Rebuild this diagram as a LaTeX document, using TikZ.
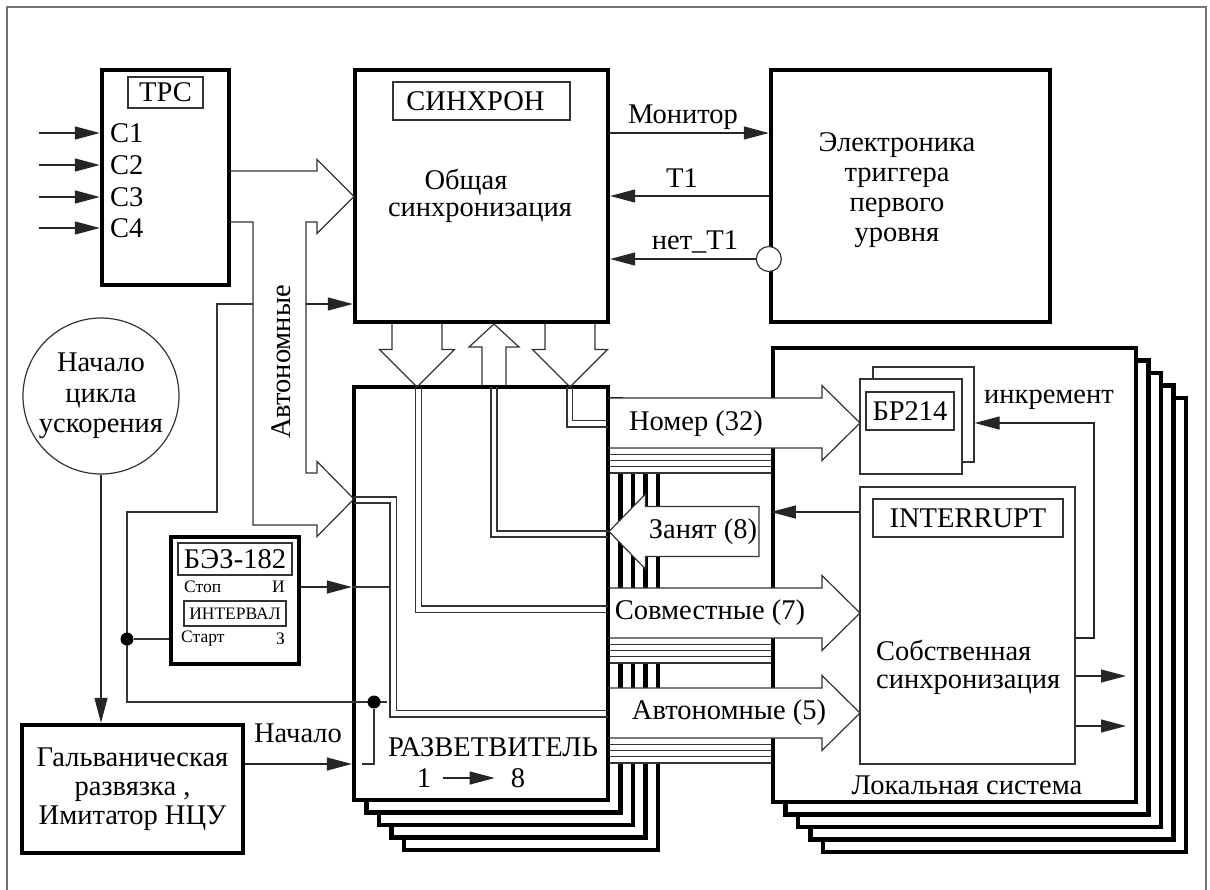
\documentclass[tikz,border=0pt]{standalone}
\usepackage{fontspec}
\setmainfont{Liberation Serif}
\usetikzlibrary{arrows.meta,calc,positioning}
\newcommand\bigfnt{\fontsize{28.5}{31}\selectfont}
\newcommand\smallfnt{\fontsize{17.5}{19}\selectfont}

\begin{document}
\begin{tikzpicture}[x=1pt,y=-1pt,>={Triangle[length=25pt,width=13pt]},
  font=\bigfnt, every node/.style={inner sep=0pt},
  thickbox/.style={draw, line width=4.3pt, fill=white},
  thinbox/.style={draw=black!80, line width=1.2pt, fill=white},
  bus/.style={draw=black!80, line width=1.2pt},
  sig/.style={draw=black!85, line width=1.2pt, ->},
  dot/.style={circle, fill=black, minimum size=13pt},
  frame/.style={draw=black!55, line width=1.2pt}]
\useasboundingbox (0,0) rectangle (1210,889);
\draw[frame] (7,892) -- (7,7) -- (1206,7) -- (1206,892);

% stacked splitter and local systems
\foreach \k in {4,3,2,1}
  \node[thickbox, minimum width=254pt, minimum height=413pt] at (481+12.5*\k,593.5+12.5*\k) {};
\node[thickbox, minimum width=254pt, minimum height=413pt] (razv) at (481,593.5) {};
\foreach \k in {4,3,2,1}
  \node[thickbox, minimum width=363pt, minimum height=454pt] at (954.5+12.5*\k,575+12.5*\k) {};
\node[thickbox, minimum width=363pt, minimum height=454pt] (loc) at (954.5,575) {};

% top blocks
\node[thickbox, minimum width=127pt, minimum height=215pt] (tpc) at (165.5,177.5) {};
\node[thinbox, minimum width=75pt, minimum height=31pt] (tpclbl) at (165.5,92.5) {ТРС};
\node[thickbox, minimum width=253pt, minimum height=252pt] (sync) at (481.5,196) {};
\node[thinbox, minimum width=177pt, minimum height=38pt] (synclbl) at (481.5,101) {СИНХРОН\kern12pt};
\node at (466,182) {Общая};
\node at (480,213) {синхронизация};
\node[thickbox, minimum width=279pt, minimum height=252pt] (trig) at (910.5,196) {};
\node[align=center] (trigtxt) at (897,190)
  {Электроника\\[-1pt]триггера\\[-1pt]первого\\[-1pt]уровня};

% inputs of TPC
\foreach \i/\y in {1/133,2/165,3/197,4/228}{
  \node[anchor=west] (c\i) at (110,\y) {C\i};
  \coordinate (in\i) at (39,\y);
  \draw[sig] (in\i) -- (tpc.west |- c\i);
}

% sync <-> trigger
\draw[sig] ([yshift=63pt]sync.east) -- ([yshift=63pt]trig.west);
\node at (683,117) {Монитор};
\draw[sig] (trig.west) -- (sync.east);
\node at (682,178) {Т1};
\node[circle, draw=black!80, line width=1.2pt, fill=white, minimum size=25pt] (inv) at ([yshift=-63pt]trig.west) {};
\draw[sig] (inv.west) -- ([yshift=-63pt]sync.east);
\node at (695,242) {нет\_Т1};

% broad bus from TPC and the autonomous branch
\draw[bus] (229,171) -- (317,171) -- (317,159.5) -- (354,196.5) -- (317,233.5) -- (317,222)
  -- (306,222) -- (306,473) -- (317,473) -- (317,461.5) -- (354,499) -- (317,536.5)
  -- (317,525) -- (253,525) -- (253,222) -- (229,222);
\node[rotate=90] at (281,362) {Автономные};

% buses between sync and splitter
\draw[bus] (392,324) -- (392,349.5) -- (379.5,349.5) -- (417,387) -- (454.5,349.5) -- (442,349.5) -- (442,324);
\draw[bus] (545,324) -- (545,349.5) -- (532.5,349.5) -- (570,387) -- (607.5,349.5) -- (595,349.5) -- (595,324);
\draw[bus] (482,385) -- (482,347) -- (469,347) -- (494,324) -- (519,347) -- (506,347) -- (506,385);

% buses from splitter to local systems
\foreach \c in {423,613,713}{
  \fill[white] (610,\c-25) rectangle (770.5,\c+50);
  \fill[white] (610,\c-25) -- (822,\c-25) -- (822,\c-37.5) -- (860,\c) -- (822,\c+37.5) -- (822,\c+25) -- (610,\c+25) -- cycle;
  \draw[bus] (608,\c-25) -- (822,\c-25) -- (822,\c-37.5) -- (860,\c) -- (822,\c+37.5) -- (822,\c+25) -- (608,\c+25);
  \foreach \k in {1,...,4}
    \draw[bus] (610,\c+25+6.25*\k) -- (771,\c+25+6.25*\k);
}
\node at (696,424) {Номер (32)};
\node at (710,613) {Совместные (7)};
\node at (729,713) {Автономные (5)};
\filldraw[bus, fill=white] (609,531.5) -- (645.5,494) -- (645.5,506.5) -- (759,506.5)
  -- (759,556.5) -- (645.5,556.5) -- (645.5,569) -- cycle;
\node at (703,532) {Занят (8)};

% lines inside the splitter
\draw[bus] (415.5,387) -- (415.5,612.5) -- (608,612.5);
\draw[bus] (421.5,387) -- (421.5,606) -- (608,606);
\draw[bus] (567,387) -- (567,427) -- (608,427);
\draw[bus] (572.5,387) -- (572.5,420.5) -- (608,420.5);
\draw[bus] (491,387) -- (491,537) -- (608,537);
\draw[bus] (497,387) -- (497,531) -- (608,531);
\draw[bus] (354,497) -- (396.5,497) -- (396.5,710.5) -- (608,710.5);
\draw[bus] (354,503) -- (390,503) -- (390,717) -- (608,717);
\node at (493,747) {РАЗВЕТВИТЕЛЬ};
\node (one) at (424,778) {1};
\node (eight) at (518,778) {8};
\draw[sig, shorten <=12pt, shorten >=16pt] (one.east) -- (eight.west);

% start of cycle and its signals
\node[circle, draw=black!80, line width=1.2pt, minimum size=156pt, align=center] (start) at (101,396)
  {Начало\\[-0.5pt]цикла\\[-0.5pt]ускорения};
\node[thickbox, minimum width=221pt, minimum height=128pt, align=center] (galv) at (132.5,789)
  {Гальваническая\\[-2pt]развязка ,\\[-2pt]Имитатор НЦУ};
\draw[sig] (start.south) -- (start.south |- galv.north);

\node[thickbox, minimum width=128pt, minimum height=127pt] (bez) at (235,600.5) {};
\node[thinbox, minimum width=114pt, minimum height=32pt] (bezlbl) at (235,559) {БЭЗ-182};
\node[thinbox, minimum width=102pt, minimum height=25pt, font=\smallfnt] (intv) at (235,613.5) {ИНТЕРВАЛ};
\node[anchor=west, font=\smallfnt] (stop) at (184,587) {Стоп};
\node[anchor=east, font=\smallfnt] (ilbl) at (285,587) {И};
\node[anchor=west, font=\smallfnt] (strt) at (181,639) {Старт};
\node[anchor=east, font=\smallfnt] (zlbl) at (285,639) {З};
\draw[sig] (bez.east |- ilbl) -- (razv.west |- ilbl);
\draw[bus] (razv.west |- ilbl) -- (390,587);

\draw[bus] (253,304) -- (217,304) -- (217,512) -- (127,512) -- (127,702) -- (387,702);
\draw[sig] (306,304) -- (sync.west |- 0,304);
\node[dot] (d1) at (127,639) {};
\node[dot] (d2) at (374,702) {};
\draw[bus] (d1) -- (bez.west |- d1);
\coordinate (nach) at ([yshift=25pt]galv.east);
\draw[sig] (nach) -- (nach -| razv.west);
\node at (298,733) {Начало};
\draw[bus] (362,764) -- (d2 |- nach) -- (d2);

% inside the local system
\node[thinbox, minimum width=101pt, minimum height=95pt] (brb) at (923.5,414.5) {};
\node[thinbox, minimum width=102pt, minimum height=95pt] (brf) at (911,426.5) {};
\node[thinbox, minimum width=88pt, minimum height=38pt] (brlbl) at (910,411) {БР214};
\node at (1049,400) {инкремент};
\node[thinbox, minimum width=215pt, minimum height=277pt] (own) at (967.5,625.5) {};
\node[thinbox, minimum width=190pt, minimum height=38pt] (intlbl) at (968,518) {INTERRUPT};
\node[anchor=west, align=left] at (876,667) {Собственная\\[-3pt]синхронизация};
\draw[sig] (1075,638) -- (1094,638) -- (1094,423) -- (brb.east |- 0,423);
\draw[sig] (own.west |- 0,512) -- (loc.west |- 0,512);
\draw[sig] (own.east |- 0,676) -- (1126,676);
\draw[sig] (own.east |- 0,726) -- (1126,726);
\node at (967,785) {Локальная система};
\end{tikzpicture}
\end{document}
